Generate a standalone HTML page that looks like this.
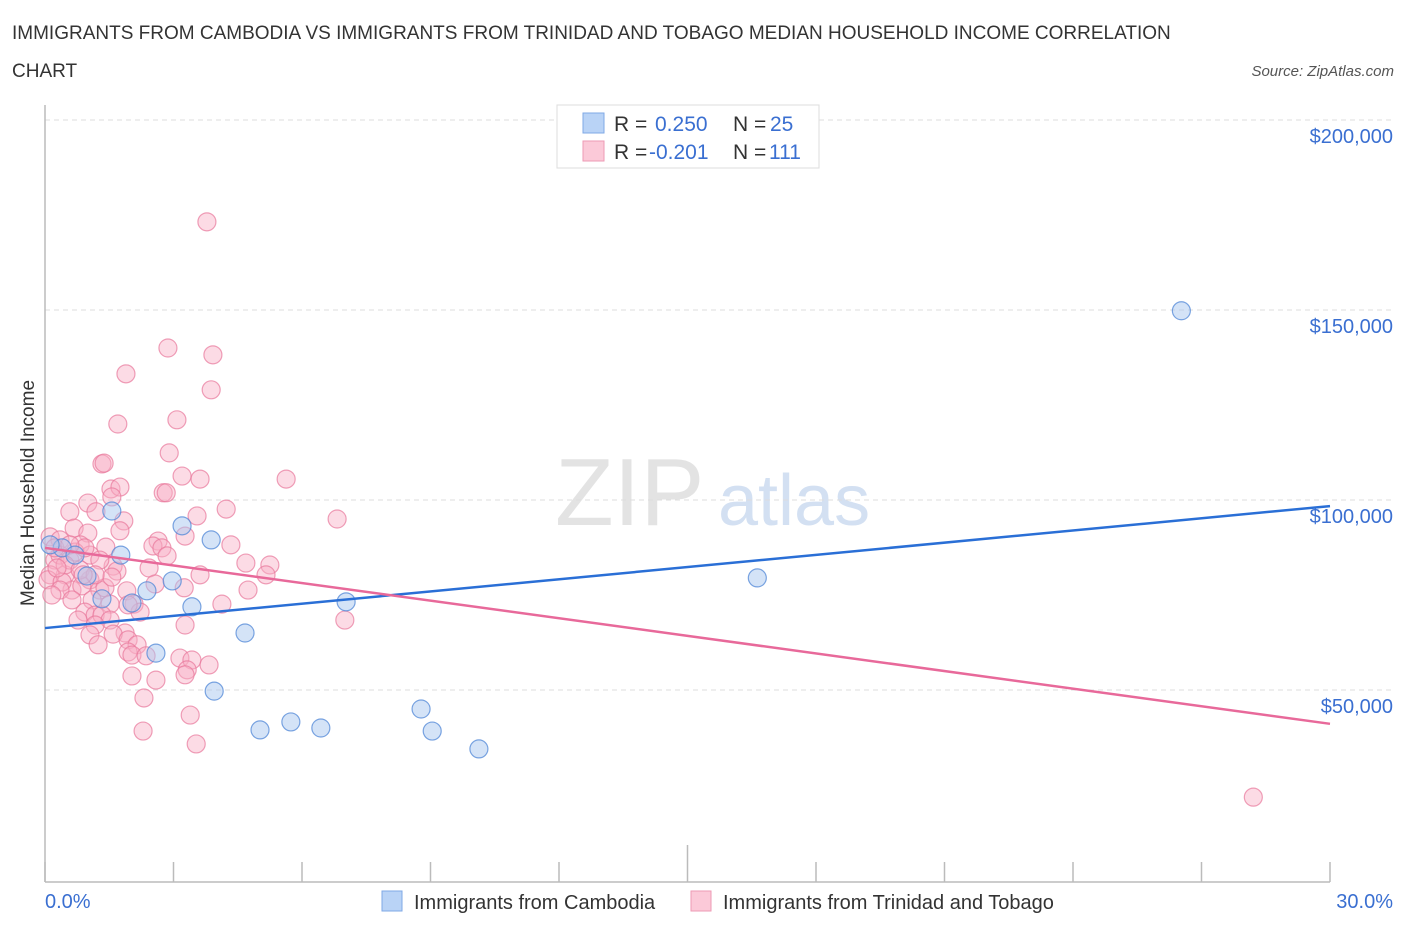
<!DOCTYPE html>
<html><head><meta charset="utf-8"><style>
body{margin:0;background:#fff;font-family:"Liberation Sans",sans-serif;}
svg text{font-family:"Liberation Sans",sans-serif;}
</style></head><body>
<svg id="c" width="1406" height="930" xmlns="http://www.w3.org/2000/svg">
<text x="12" y="39" font-size="19" fill="#333">IMMIGRANTS FROM CAMBODIA VS IMMIGRANTS FROM TRINIDAD AND TOBAGO MEDIAN HOUSEHOLD INCOME CORRELATION</text>
<text x="12" y="77" font-size="19" fill="#333">CHART</text>
<text x="1394" y="76" font-size="15" fill="#555" font-style="italic" text-anchor="end">Source: ZipAtlas.com</text>
<text x="555" y="525" font-size="96" fill="#ddd" font-family="Liberation Serif" opacity="0.8">ZIP</text>
<text x="718" y="525" font-size="72" fill="#c9d9ef" opacity="0.8">atlas</text>
<text transform="translate(34,493) rotate(-90)" font-size="19" fill="#333" text-anchor="middle">Median Household Income</text>
<g id="grid"></g><g id="axes"></g><g id="pts"></g><g id="lines"></g>
<g>
<rect x="557" y="105" width="262" height="63" fill="#fff" stroke="#ddd"/>
<rect x="583" y="113" width="21" height="20" fill="#b9d3f6" stroke="#7fa8e6"/>
<rect x="583" y="141" width="21" height="20" fill="#fbc9d8" stroke="#ee9ab4"/>
<text x="614" y="131" font-size="21" fill="#333">R =</text>
<text x="655" y="131" font-size="21" fill="#3a6fd1">0.250</text>
<text x="733" y="131" font-size="21" fill="#333">N =</text>
<text x="770" y="131" font-size="21" fill="#3a6fd1">25</text>
<text x="614" y="159" font-size="21" fill="#333">R =</text>
<text x="649" y="159" font-size="21" fill="#3a6fd1">-0.201</text>
<text x="733" y="159" font-size="21" fill="#333">N =</text>
<text x="769" y="159" font-size="21" fill="#3a6fd1">111</text>
</g>
<g>
<rect x="382" y="891" width="20" height="20" fill="#b9d3f6" stroke="#7fa8e6"/>
<text x="414" y="909" font-size="20" fill="#333">Immigrants from Cambodia</text>
<rect x="691" y="891" width="20" height="20" fill="#fbc9d8" stroke="#ee9ab4"/>
<text x="723" y="909" font-size="20" fill="#333">Immigrants from Trinidad and Tobago</text>
</g>
<text x="45" y="908" font-size="20" fill="#3a6fd1">0.0%</text>
<text x="1393" y="908" font-size="20" fill="#3a6fd1" text-anchor="end">30.0%</text>
</svg>
<script>
const yTicks=[50000,100000,150000,200000];
const yTickLabels=["$50,000","$100,000","$150,000","$200,000"];
const xTicks=[0,3,6,9,12,15,18,21,24,27,30];
const blueX=[26.53,1.56,3.20,3.88,1.77,0.40,0.70,0.12,0.98,2.97,2.38,1.33,2.03,3.43,4.67,2.59,3.95,5.02,5.74,6.44,7.03,8.78,9.04,10.13,16.63];
const blueY=[149.8,97.1,93.2,89.5,85.5,87.4,85.5,88.2,80.0,78.7,76.1,74.0,72.9,71.9,65.0,59.7,49.7,39.5,41.6,40.0,73.2,45.0,39.2,34.5,79.5];
const pinkX=[3.78,2.87,3.92,1.89,3.88,3.08,1.70,2.90,1.33,1.38,3.20,3.62,5.63,2.76,1.54,1.75,2.83,1.00,1.56,4.23,0.58,3.55,1.84,6.82,1.19,0.68,1.75,1.00,2.64,4.34,3.27,2.52,0.82,2.73,1.42,0.12,0.35,1.05,2.85,4.69,5.25,2.43,1.59,1.68,3.62,5.16,1.05,0.23,0.47,0.12,0.63,0.86,1.28,1.40,2.57,4.74,3.25,1.91,1.10,1.52,2.08,4.13,0.93,1.17,1.33,1.52,7.00,3.27,1.17,1.87,1.05,1.59,1.24,1.94,2.15,1.94,2.03,2.36,3.15,3.43,3.83,3.32,2.03,2.59,3.27,2.31,3.39,2.29,3.53,28.21,0.35,0.58,0.23,0.70,0.47,0.82,0.07,0.40,0.93,1.28,1.56,2.22,0.77,1.94,0.35,0.16,0.63,1.17,0.58,0.89,0.28];
const pinkY=[173.2,140.0,138.2,133.2,129.0,121.1,120.0,112.4,109.5,109.7,106.3,105.5,105.5,101.9,102.9,103.4,101.9,99.2,100.8,97.6,96.9,95.8,94.5,95.0,96.9,92.6,91.9,91.3,89.2,88.2,90.5,87.9,88.2,87.4,87.6,90.3,89.5,85.5,85.3,83.4,82.9,82.1,82.6,81.3,80.3,80.3,79.0,84.2,80.3,80.3,76.3,77.4,76.3,76.9,77.9,76.3,76.9,76.1,73.7,72.6,72.6,72.6,70.5,69.7,69.7,68.4,68.4,67.1,67.1,65.0,64.5,64.7,61.9,63.2,61.9,60.0,59.2,59.0,58.4,57.9,56.6,55.3,53.7,52.6,54.0,47.9,43.4,39.2,35.8,21.8,85.5,84.2,87.4,86.3,82.9,81.6,79.0,78.4,87.4,84.2,79.7,70.5,68.4,72.4,76.3,75.0,73.7,80.3,88.2,80.3,82.1];
const blueLine=[66.3,98.4];
const pinkLine=[87.4,41.1];
const NS="http://www.w3.org/2000/svg";
const xs=v=>45+v/30*1285;
const ys=v=>880-v/50000*190;
function mk(p,t,a){const e=document.createElementNS(NS,t);for(const k in a)e.setAttribute(k,a[k]);document.getElementById(p).appendChild(e);return e;}
yTicks.forEach((t,i)=>{
 const l=mk('grid','line',{x1:45,x2:1395,y1:ys(t),y2:ys(t),stroke:'#ddd','stroke-dasharray':'5,4'});
 
 
 const tx=mk('grid','text',{x:1393,y:ys(t)+23,'font-size':20,fill:'#3a6fd1','text-anchor':'end'});
 tx.textContent=yTickLabels[i];
 
 
});
const ya=mk('axes','line',{x1:45,x2:45,y1:105,y2:882,stroke:'#bbb','stroke-width':1.5});


const xa=mk('axes','line',{x1:45,x2:1330,y1:882,y2:882,stroke:'#bbb','stroke-width':1.5});


xTicks.forEach((t,i)=>{
 const l=mk('axes','line',{x1:xs(t),x2:xs(t),y1:i==5?845:862,y2:882,stroke:'#bbb','stroke-width':1.5});
 
 
});
pinkX.forEach((x,i)=>{
 const c=mk('pts','circle',{cx:xs(x),cy:ys(pinkY[i]*1000),r:9,fill:'rgba(248,176,198,0.45)',stroke:'rgba(232,120,155,0.7)','stroke-width':1.2});
 
 
});
blueX.forEach((x,i)=>{
 const c=mk('pts','circle',{cx:xs(x),cy:ys(blueY[i]*1000),r:9,fill:'rgba(170,200,240,0.5)',stroke:'rgba(80,135,215,0.75)','stroke-width':1.2});
 
 
});
const bl=mk('lines','line',{x1:xs(0),x2:xs(30),y1:ys(blueLine[0]*1000),y2:ys(blueLine[1]*1000),stroke:'#2a6fd6','stroke-width':2.5});


const pl=mk('lines','line',{x1:xs(0),x2:xs(30),y1:ys(pinkLine[0]*1000),y2:ys(pinkLine[1]*1000),stroke:'#e8699a','stroke-width':2.5});


</script>
</body></html>
